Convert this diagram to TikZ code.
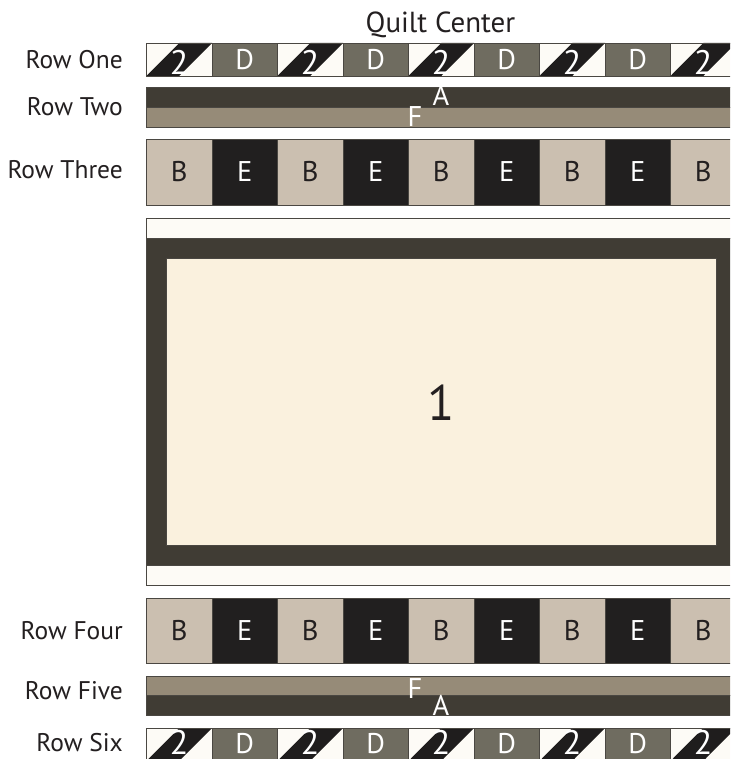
\documentclass[tikz,border=0pt]{standalone}
\usepackage{fontspec}
\setmainfont{PT Sans}
\definecolor{bandA}{HTML}{403C34}
\definecolor{bandF}{HTML}{968B78}
\definecolor{blkD}{HTML}{6F6C60}
\definecolor{blkB}{HTML}{CBBFB0}
\definecolor{blkE}{HTML}{211F1F}
\definecolor{hstW}{HTML}{FDFBF6}
\definecolor{hstK}{HTML}{1F1D1D}
\definecolor{panel}{HTML}{FAF1DE}
\definecolor{ink}{HTML}{231F20}
\definecolor{edge}{HTML}{4A4742}
\newcommand\tflabel{\fontsize{25.5}{28}\selectfont}
\newcommand\tfblock{\fontsize{28.5}{30}\selectfont}
\newcommand\tftwo{\fontsize{34}{36}\selectfont}
\newcommand\tftitle{\fontsize{29}{32}\selectfont}
\newcommand\tfbig{\fontsize{50}{54}\selectfont}
\begin{document}
\begin{tikzpicture}[x=1pt,y=-1pt,
  outline/.style={draw=edge,line width=0.7pt},
  rowlabel/.style={anchor=base east,inner sep=0pt,text=ink,font=\tflabel},
  blocktext/.style={anchor=base,inner sep=0pt,font=\tfblock},
  twotext/.style={anchor=base,inner sep=0pt,font=\tftwo,text=white}]
\useasboundingbox (0,0) rectangle (730,759);
\clip (0,0) rectangle (730,759);
\fill[white] (0,0) rectangle (730,759);

% Title
\node[anchor=base,inner sep=0pt,text=ink,font=\tftitle] (title) at (440.5,33) {Quilt Center};

% Row labels
\node[rowlabel] (l1) at (123,69) {Row One};
\node[rowlabel] (l2) at (123,116) {Row Two};
\node[rowlabel] (l3) at (123,179) {Row Three};
\node[rowlabel] (l4) at (123,639) {Row Four};
\node[rowlabel] (l5) at (123,699) {Row Five};
\node[rowlabel] (l6) at (123,751) {Row Six};

% Row One and Row Six (half-square triangle blocks and D blocks)
\foreach \row/\top/\dbase/\twobase in {1/43/70/74.5, 6/728/753/754}{
  \foreach \k in {0,...,8}{
    \pgfmathsetmacro\xa{146.5+65.5*\k}
    \pgfmathtruncatemacro\odd{mod(\k,2)}
    \ifnum\odd=0
      \fill[hstW] (\xa,\top) rectangle ++(65.5,33);
      \fill[hstK] (\xa,\top+33) -- (\xa+32.75,\top) -- (\xa+65.5,\top) -- (\xa+32.75,\top+33) -- cycle;
      \draw[outline] (\xa,\top) rectangle ++(65.5,33);
      \node[twotext] (r\row b\k) at (\xa+32.75,\twobase) {2};
    \else
      \fill[blkD] (\xa,\top) rectangle ++(65.5,33);
      \draw[outline] (\xa,\top) rectangle ++(65.5,33);
      \node[blocktext,text=white] (r\row b\k) at (\xa+32.75,\dbase) {D};
    \fi
  }
}

% Row Two
\fill[bandA] (146.5,87) rectangle (736,107);
\fill[bandF] (146.5,107) rectangle (736,127);
\draw[outline] (146.5,87) rectangle (736,107);
\draw[outline] (146.5,107) rectangle (736,127);
\node[blocktext,text=white] (r2A) at (441,106) {A};
\node[blocktext,text=white] (r2F) at (415,127) {F};

% Row Five
\fill[bandF] (146.5,676) rectangle (736,695);
\fill[bandA] (146.5,695) rectangle (736,715);
\draw[outline] (146.5,676) rectangle (736,695);
\draw[outline] (146.5,695) rectangle (736,715);
\node[blocktext,text=white] (r5F) at (415,698) {F};
\node[blocktext,text=white] (r5A) at (441,715) {A};

% Row Three and Row Four
\foreach \row/\top/\base in {3/139.5/182, 4/598/640}{
  \foreach \k in {0,...,8}{
    \pgfmathsetmacro\xa{146.5+65.5*\k}
    \pgfmathtruncatemacro\odd{mod(\k,2)}
    \ifnum\odd=0
      \fill[blkB] (\xa,\top) rectangle ++(65.5,65.5);
      \draw[outline] (\xa,\top) rectangle ++(65.5,65.5);
      \node[blocktext,text=ink] (r\row b\k) at (\xa+32.75,\base) {B};
    \else
      \fill[blkE] (\xa,\top) rectangle ++(65.5,65.5);
      \draw[outline] (\xa,\top) rectangle ++(65.5,65.5);
      \node[blocktext,text=white] (r\row b\k) at (\xa+32.75,\base) {E};
    \fi
  }
}

% Quilt center
\fill[hstW] (146.5,218) rectangle (736,238);
\draw[outline] (146.5,218) rectangle (736,238);
\fill[hstW] (146.5,565) rectangle (736,585);
\draw[outline] (146.5,565) rectangle (736,585);
\fill[bandA] (146.5,238) rectangle (736,565);
\draw[outline] (146.5,238) rectangle (736,565);
\fill[panel] (166.5,258) rectangle (716,545);
\draw[outline] (166.5,258) rectangle (716,545);
\node[anchor=base,inner sep=0pt,text=ink,font=\tfbig] (one) at (441,420) {1};
\end{tikzpicture}
\end{document}
